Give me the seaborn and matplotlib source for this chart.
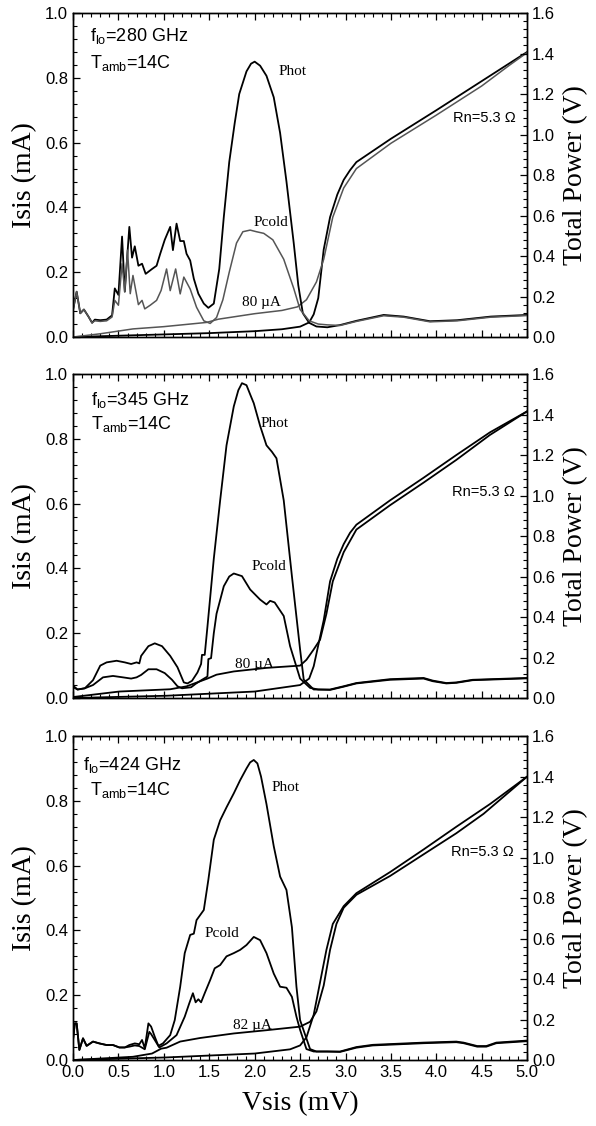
import matplotlib
matplotlib.use("Agg")
import matplotlib.pyplot as plt
from matplotlib.ticker import MultipleLocator, FormatStrFormatter
import seaborn as sns

# ---------------- data ----------------
# x: Vsis (mV); IV curves in mA (left axis); power curves in V (right axis)

# 280 GHz panel
top_hot_v = [0.00, 0.04, 0.08, 0.12, 0.17, 0.21, 0.24, 0.30, 0.37, 0.43,
             0.46, 0.50, 0.54, 0.57, 0.62, 0.65, 0.68, 0.72, 0.76, 0.80,
             0.87, 0.92, 0.96, 1.01, 1.07, 1.10, 1.14, 1.18, 1.22, 1.25,
             1.29, 1.33, 1.38, 1.44, 1.49, 1.55, 1.61, 1.66, 1.72, 1.78,
             1.83, 1.91, 1.96, 2.00, 2.06, 2.13, 2.21, 2.28, 2.35, 2.43, 2.48,
             2.53, 2.60, 2.68, 2.80, 2.94, 3.12, 3.42, 3.64, 3.93, 4.23,
             4.60, 5.00]
top_hot_p = [0.133, 0.224, 0.117, 0.136, 0.101, 0.070, 0.086, 0.083, 0.086, 0.107,
             0.240, 0.208, 0.496, 0.224, 0.544, 0.392, 0.448, 0.352, 0.362, 0.312,
             0.336, 0.352, 0.411, 0.480, 0.544, 0.429, 0.560, 0.474, 0.474, 0.411,
             0.378, 0.288, 0.214, 0.165, 0.144, 0.165, 0.336, 0.592, 0.864, 1.056,
             1.200, 1.312, 1.350, 1.360, 1.340, 1.290, 1.184, 1.008, 0.768, 0.464, 0.256,
             0.118, 0.070, 0.052, 0.048, 0.059, 0.080, 0.109, 0.101, 0.078, 0.083,
             0.101, 0.109]
top_cold_v = [0.00, 0.04, 0.08, 0.12, 0.17, 0.21, 0.24, 0.30, 0.37, 0.43,
              0.46, 0.50, 0.54, 0.57, 0.60, 0.63, 0.66, 0.72, 0.76, 0.79,
              0.85, 0.92, 0.97, 1.03, 1.07, 1.13, 1.18, 1.22, 1.29, 1.36,
              1.44, 1.51, 1.58, 1.65, 1.72, 1.80, 1.87, 1.95, 2.02, 2.10,
              2.20, 2.32, 2.43, 2.50, 2.60, 2.70, 2.80, 2.94, 3.12, 3.42,
              3.64, 3.93, 4.23, 4.60, 5.00]
top_cold_p = [0.133, 0.224, 0.117, 0.136, 0.101, 0.070, 0.080, 0.077, 0.080, 0.099,
              0.181, 0.157, 0.362, 0.224, 0.429, 0.214, 0.304, 0.160, 0.181, 0.139,
              0.157, 0.181, 0.230, 0.336, 0.229, 0.336, 0.213, 0.296, 0.237, 0.147,
              0.080, 0.067, 0.096, 0.184, 0.320, 0.464, 0.520, 0.528, 0.520, 0.512,
              0.480, 0.384, 0.240, 0.136, 0.080, 0.064, 0.060, 0.057, 0.077, 0.105,
              0.098, 0.075, 0.080, 0.098, 0.106]
top_iv_v = [0.0, 0.5, 1.0, 1.5, 2.0, 2.3, 2.5, 2.6, 2.65, 2.7,
            2.76, 2.83, 2.91, 2.98, 3.05, 3.12, 3.5, 4.0, 4.5, 5.0]
top_iv_i = [0.0, 0.004, 0.008, 0.012, 0.018, 0.024, 0.032, 0.045, 0.07, 0.12,
            0.27, 0.37, 0.44, 0.485, 0.515, 0.54, 0.612, 0.70, 0.79, 0.88]
top_ivp_v = [0.0, 0.3, 0.66, 1.0, 1.47, 1.6, 2.0, 2.3, 2.47, 2.57,
             2.68, 2.76, 2.86, 2.98, 3.12, 3.5, 4.0, 4.5, 4.8, 5.0]
top_ivp_i = [0.0, 0.01, 0.025, 0.032, 0.045, 0.055, 0.072, 0.082, 0.093, 0.115,
             0.17, 0.24, 0.37, 0.46, 0.52, 0.598, 0.685, 0.775, 0.838, 0.878]

# 345 GHz panel
mid_hot_v = [0.00, 0.05, 0.13, 0.22, 0.30, 0.37, 0.48, 0.57, 0.64, 0.70,
             0.73, 0.75, 0.83, 0.90, 0.98, 1.07, 1.15, 1.22, 1.26, 1.31,
             1.37, 1.41, 1.42, 1.45, 1.48, 1.50, 1.55, 1.62, 1.69, 1.77,
             1.82, 1.86, 1.91, 1.95, 1.99, 2.06, 2.13, 2.19, 2.24, 2.32, 2.41, 2.50,
             2.54, 2.65, 2.83, 2.98, 3.12, 3.49, 3.86, 3.96, 4.11, 4.22,
             4.40, 5.00]
mid_hot_p = [0.061, 0.042, 0.048, 0.088, 0.160, 0.176, 0.184, 0.176, 0.168, 0.176,
             0.171, 0.208, 0.256, 0.270, 0.256, 0.208, 0.152, 0.077, 0.072, 0.085,
             0.126, 0.168, 0.213, 0.213, 0.352, 0.448, 0.688, 0.976, 1.248, 1.440,
             1.520, 1.555, 1.545, 1.500, 1.456, 1.344, 1.248, 1.216, 1.184, 0.976, 0.602, 0.240,
             0.091, 0.042, 0.042, 0.058, 0.074, 0.093, 0.099, 0.086, 0.074, 0.077,
             0.090, 0.099]
mid_cold_v = [0.00, 0.05, 0.13, 0.22, 0.33, 0.44, 0.55, 0.64, 0.70, 0.75,
              0.83, 0.92, 1.01, 1.09, 1.15, 1.20, 1.30, 1.35, 1.42, 1.48,
              1.49, 1.52, 1.55, 1.58, 1.66, 1.72, 1.77, 1.86, 1.95, 2.06, 2.13,
              2.17, 2.22, 2.32, 2.39, 2.50, 2.61, 2.70, 2.83, 2.98, 3.12,
              3.49, 3.86, 3.96, 4.11, 4.22, 4.40, 5.00]
mid_cold_p = [0.054, 0.042, 0.048, 0.064, 0.102, 0.109, 0.102, 0.096, 0.102, 0.114,
              0.142, 0.142, 0.123, 0.090, 0.058, 0.048, 0.053, 0.070, 0.090, 0.106,
              0.192, 0.197, 0.320, 0.416, 0.552, 0.600, 0.615, 0.602, 0.536, 0.486, 0.462,
              0.480, 0.472, 0.405, 0.256, 0.096, 0.050, 0.042, 0.040, 0.056, 0.072,
              0.090, 0.096, 0.083, 0.072, 0.075, 0.088, 0.097]
mid_iv_v = [0.0, 1.03, 2.0, 2.5, 2.6, 2.65, 2.76, 2.83, 2.91, 2.98,
            3.05, 3.12, 3.49, 3.86, 4.22, 4.59, 5.0]
mid_iv_i = [0.0, 0.007, 0.02, 0.04, 0.06, 0.098, 0.24, 0.36, 0.43, 0.475,
            0.51, 0.535, 0.61, 0.68, 0.75, 0.82, 0.885]
mid_ivp_v = [0.0, 0.51, 1.07, 1.25, 1.48, 1.58, 1.77, 2.13, 2.5, 2.57,
             2.65, 2.72, 2.79, 2.86, 2.98, 3.12, 3.49, 3.86, 4.22, 4.59, 5.0]
mid_ivp_i = [0.003, 0.02, 0.027, 0.036, 0.06, 0.072, 0.082, 0.093, 0.10, 0.118,
             0.15, 0.18, 0.26, 0.36, 0.45, 0.52, 0.595, 0.665, 0.735, 0.812, 0.885]

# 424 GHz panel
bot_hot_v = [0.00, 0.02, 0.04, 0.07, 0.11, 0.15, 0.22, 0.29, 0.37, 0.44,
             0.51, 0.57, 0.62, 0.68, 0.73, 0.76, 0.79, 0.83, 0.86, 0.90,
             0.94, 0.99, 1.07, 1.12, 1.18, 1.23, 1.29, 1.33, 1.36, 1.44,
             1.49, 1.55, 1.62, 1.69, 1.77, 1.84, 1.91, 1.95, 1.99, 2.03, 2.07, 2.13,
             2.21, 2.28, 2.35, 2.41, 2.46, 2.50, 2.61, 2.68, 2.94, 3.12,
             3.30, 3.86, 4.22, 4.30, 4.45, 4.55, 4.66, 5.00]
bot_hot_p = [0.099, 0.181, 0.181, 0.050, 0.107, 0.070, 0.091, 0.082, 0.074, 0.074,
             0.062, 0.062, 0.074, 0.082, 0.078, 0.099, 0.058, 0.181, 0.165, 0.115,
             0.070, 0.082, 0.123, 0.197, 0.362, 0.528, 0.618, 0.624, 0.691, 0.741,
             0.890, 1.088, 1.184, 1.248, 1.317, 1.382, 1.440, 1.470, 1.482, 1.465, 1.400, 1.264,
             1.056, 0.906, 0.840, 0.656, 0.362, 0.197, 0.054, 0.042, 0.042, 0.064,
             0.075, 0.086, 0.091, 0.086, 0.069, 0.069, 0.086, 0.096]
bot_cold_v = [0.00, 0.02, 0.04, 0.07, 0.11, 0.15, 0.22, 0.29, 0.37, 0.44,
              0.51, 0.57, 0.62, 0.68, 0.73, 0.79, 0.84, 0.86, 0.90, 0.95,
              1.03, 1.14, 1.23, 1.28, 1.32, 1.35, 1.38, 1.41, 1.45, 1.51,
              1.56, 1.62, 1.69, 1.77, 1.84, 1.91, 1.99, 2.06, 2.13, 2.21,
              2.28, 2.35, 2.41, 2.46, 2.50, 2.57, 2.65, 2.80, 2.94, 3.12,
              3.30, 3.86, 4.22, 4.30, 4.45, 4.55, 4.66, 5.00]
bot_cold_p = [0.099, 0.181, 0.181, 0.050, 0.107, 0.070, 0.091, 0.082, 0.074, 0.074,
              0.062, 0.062, 0.066, 0.072, 0.069, 0.053, 0.139, 0.128, 0.099, 0.062,
              0.082, 0.123, 0.214, 0.280, 0.330, 0.285, 0.300, 0.285, 0.330, 0.395,
              0.453, 0.469, 0.512, 0.528, 0.544, 0.568, 0.608, 0.592, 0.528, 0.427,
              0.362, 0.357, 0.312, 0.214, 0.149, 0.054, 0.042, 0.042, 0.040, 0.061,
              0.072, 0.083, 0.088, 0.083, 0.066, 0.066, 0.083, 0.093]
bot_iv_v = [0.0, 1.03, 2.0, 2.39, 2.5, 2.57, 2.65, 2.72, 2.79, 2.86,
            2.98, 3.12, 3.49, 3.86, 4.22, 4.59, 5.0]
bot_iv_i = [0.0, 0.008, 0.02, 0.033, 0.045, 0.07, 0.14, 0.24, 0.34, 0.42,
            0.475, 0.515, 0.58, 0.65, 0.72, 0.79, 0.875]
bot_ivp_v = [0.0, 0.66, 0.87, 0.97, 1.03, 1.18, 1.40, 1.77, 2.13, 2.5,
             2.61, 2.68, 2.76, 2.83, 2.90, 2.98, 3.12, 3.49, 3.86, 4.22, 4.52, 5.0]
bot_ivp_i = [0.0, 0.01, 0.02, 0.035, 0.038, 0.057, 0.068, 0.082, 0.092, 0.103,
             0.118, 0.15, 0.23, 0.34, 0.42, 0.47, 0.51, 0.568, 0.635, 0.70, 0.76, 0.875]

freqs = ["280", "345", "424"]
bias_labels = ["80 µA", "80 µA", "82 µA"]

# ---------------- style ----------------
sns.set_style("ticks")
plt.rcParams["font.family"] = ["Liberation Sans", "DejaVu Sans"]
plt.rcParams.update({
    "mathtext.default": "regular",
    "text.color": "black", "axes.labelcolor": "black",
    "xtick.direction": "in", "ytick.direction": "in",
    "xtick.major.size": 5, "ytick.major.size": 5,
    "xtick.minor.size": 3, "ytick.minor.size": 3,
    "xtick.major.width": 0.9, "ytick.major.width": 0.9,
    "xtick.minor.width": 0.8, "ytick.minor.width": 0.8,
    "axes.linewidth": 1.0,
    "xtick.labelsize": 12, "ytick.labelsize": 12,
    "xtick.color": "black", "ytick.color": "black",
    "axes.edgecolor": "black",
})
SERIF = "Liberation Serif"


def curve(ax, v, y, color="black", lw=1.3):
    sns.lineplot(x=v, y=y, ax=ax, color=color, lw=lw, sort=False,
                 estimator=None, legend=False)


def panel(rect, hot, cold, iv, ivp, grey, freq, bias, txt, last):
    ax = fig.add_axes(rect)
    tw = ax.twinx()
    c2 = "#555555" if grey else "black"
    w2 = 1.1 if grey else 1.3
    curve(ax, iv[0], iv[1])
    curve(ax, ivp[0], ivp[1], c2, w2)
    curve(tw, hot[0], hot[1])
    curve(tw, cold[0], cold[1], c2, w2)

    ax.set_xlim(0, 5)
    ax.set_ylim(0, 1.0)
    tw.set_ylim(0, 1.6)
    ax.xaxis.set_major_locator(MultipleLocator(0.5))
    ax.xaxis.set_minor_locator(MultipleLocator(0.1))
    ax.yaxis.set_major_locator(MultipleLocator(0.2))
    ax.yaxis.set_minor_locator(MultipleLocator(0.04))
    tw.yaxis.set_major_locator(MultipleLocator(0.2))
    tw.yaxis.set_minor_locator(MultipleLocator(0.04))
    ax.tick_params(which="both", top=True, right=False)
    tw.tick_params(which="both", left=False, right=True)
    for a in (ax.yaxis, tw.yaxis, ax.xaxis):
        a.set_major_formatter(FormatStrFormatter("%.1f"))
    if not last:
        ax.tick_params(labelbottom=False)
        ax.set_xlabel("")
    else:
        ax.set_xlabel("Vsis (mV)", family=SERIF, fontsize=20, labelpad=8)
    ax.set_ylabel("Isis (mA)", family=SERIF, fontsize=20, labelpad=6)
    tw.set_ylabel("Total Power (V)", family=SERIF, fontsize=20, labelpad=6)

    (fx, fy), (tx, ty), hot_xy, cold_xy, bias_xy, rn_xy = txt
    ax.text(fx, fy, "f$_{lo}$=%s GHz" % freq, fontsize=13, va="center")
    ax.text(tx, ty, "T$_{amb}$=14C", fontsize=13, va="center")
    ax.text(hot_xy[0], hot_xy[1], "Phot", family=SERIF, fontsize=11, va="center")
    ax.text(cold_xy[0], cold_xy[1], "Pcold", family=SERIF, fontsize=11,
            ha="center", va="center")
    ax.text(bias_xy[0], bias_xy[1], bias, family=SERIF, fontsize=11,
            ha="center", va="center")
    ax.text(rn_xy[0], rn_xy[1], "Rn=5.3 Ω", fontsize=10.5, ha="center", va="center")
    return ax


fig = plt.figure(figsize=(5.96, 11.26), dpi=100)
L, W, H = 0.1225, 0.762, 0.2877

panel([L, 0.7007, W, H], (top_hot_v, top_hot_p), (top_cold_v, top_cold_p),
      (top_iv_v, top_iv_i), (top_ivp_v, top_ivp_i), True, freqs[0], bias_labels[0],
      [(0.19, 0.93), (0.19, 0.845), (2.26, 0.82), (2.18, 0.355), (2.08, 0.105),
       (4.53, 0.675)], False)
panel([L, 0.3801, W, H], (mid_hot_v, mid_hot_p), (mid_cold_v, mid_cold_p),
      (mid_iv_v, mid_iv_i), (mid_ivp_v, mid_ivp_i), False, freqs[1], bias_labels[1],
      [(0.2, 0.92), (0.2, 0.846), (2.06, 0.846), (2.16, 0.407), (2.0, 0.103),
       (4.52, 0.635)], False)
panel([L, 0.0586, W, H], (bot_hot_v, bot_hot_p), (bot_cold_v, bot_cold_p),
      (bot_iv_v, bot_iv_i), (bot_ivp_v, bot_ivp_i), False, freqs[2], bias_labels[2],
      [(0.11, 0.91), (0.19, 0.833), (2.19, 0.84), (1.64, 0.39), (1.97, 0.108),
       (4.51, 0.643)], True)

fig.savefig("out.png", dpi=100)
